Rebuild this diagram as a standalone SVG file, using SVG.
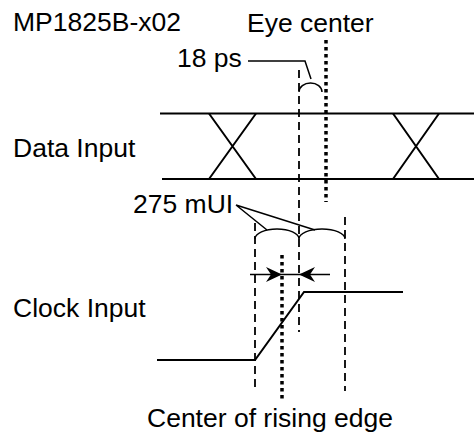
<svg xmlns="http://www.w3.org/2000/svg" width="474" height="435" viewBox="0 0 474 435">
<style>
text{font-family:"Liberation Sans",Arial,sans-serif;font-size:26.5px;fill:#000}
.s{stroke:#000;stroke-width:2;fill:none}
.t{stroke:#000;stroke-width:1.5;fill:none}
.d{stroke:#000;stroke-width:1.8;fill:none;stroke-dasharray:8,5}
.o{stroke:#000;stroke-width:3.5;fill:none;stroke-dasharray:3.5,3.5}
.a{fill:#000;stroke:none}
</style>
<rect width="474" height="435" fill="#fff"/>
<g id="labels">
<text x="13" y="31">MP1825B-x02</text>
<text x="247" y="31.5">Eye center</text>
<text x="177" y="67">18 ps</text>
<text x="13" y="157">Data Input</text>
<text x="133" y="213">275 mUI</text>
<text x="13" y="317">Clock Input</text>
<text x="147" y="427">Center of rising edge</text>
</g>
<g id="data-input">
<path class="s" d="M160,113.5H474M162,179H474"/>
<path class="s" d="M209,113.5L256,179M256,113.5L209,179M393,113.5L439,179M439,113.5L393,179"/>
</g>
<g id="clock-input">
<path class="s" d="M157,360H255L304,292H403"/>
</g>
<g id="connectors">
<path class="d" d="M299,70V332"/>
<path class="d" d="M255,223V390"/>
<path class="d" d="M345,217V391"/>
<path class="o" d="M326,40V202"/>
<path class="o" d="M282,255V402"/>
<path class="t" d="M248,61H305L311,79"/>
<path class="t" d="M299,92A11.5,9 0 0 1 322,92"/>
<path class="t" d="M236,205L267,230M236,205L315,230"/>
<path class="t" d="M255,239A22,10 0 0 1 299,239A23,10 0 0 1 345,239"/>
<path class="t" d="M250,274.5H330"/>
<path class="a" d="M282,274.5L266,267L271,274.5L266,282Z"/>
<path class="a" d="M299,274.5L315,267L310,274.5L315,282Z"/>
</g>
</svg>
